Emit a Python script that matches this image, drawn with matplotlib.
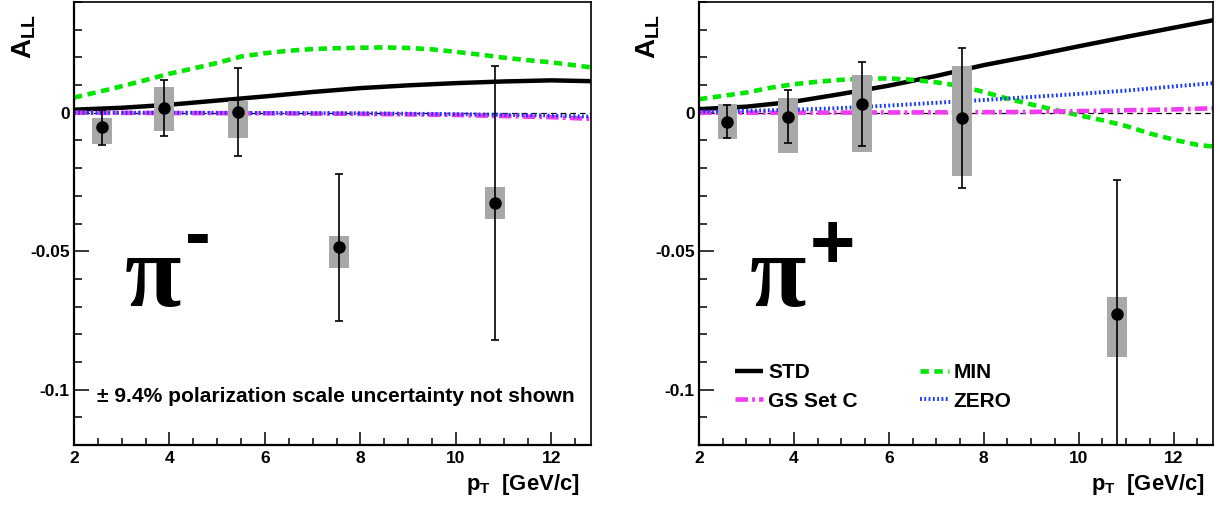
import matplotlib
matplotlib.use("Agg")
import matplotlib.pyplot as plt

# ---------------- data ----------------
pt_pim = [2.59, 3.88, 5.44, 7.56, 10.81]
all_pim = [-0.0053, 0.0017, 0.0001, -0.0486, -0.0327]
stat_pim = [0.0062, 0.0100, 0.0159, 0.0266, 0.0495]
sys_lo_pim = [0.0060, 0.0084, 0.0094, 0.0075, 0.0056]
sys_hi_pim = [0.0034, 0.0076, 0.0042, 0.0042, 0.0060]

pt_pip = [2.60, 3.87, 5.44, 7.55, 10.81]
all_pip = [-0.0032, -0.0014, 0.0032, -0.0018, -0.0728]
stat_pip = [0.0061, 0.0097, 0.0152, 0.0252, 0.0486]
sys_lo_pip = [0.0064, 0.0133, 0.0175, 0.0212, 0.0155]
sys_hi_pip = [0.0063, 0.0067, 0.0104, 0.0188, 0.0063]

# theory curves, pi-
std_x_L = [2, 3, 4, 5, 6, 7, 8, 9, 10, 11, 12, 12.83]
std_L = [0.0011, 0.0018, 0.0029, 0.0044, 0.0059, 0.0075, 0.0089, 0.0099, 0.0107, 0.0113, 0.0117, 0.0114]
min_x_L = [2, 2.8, 3.5, 4, 4.5, 5, 5.5, 6, 6.5, 7, 7.5, 8, 8.5, 9, 9.5, 10, 10.5, 11, 11.5, 12, 12.5, 12.83]
min_L = [0.0055, 0.0087, 0.0118, 0.0141, 0.0160, 0.0180, 0.0203, 0.0215, 0.0224, 0.0230, 0.0233, 0.0235,
         0.0236, 0.0234, 0.0229, 0.0220, 0.0210, 0.0199, 0.0190, 0.0182, 0.0171, 0.0164]
gs_x_L = [2, 4, 6, 8, 10, 12, 12.83]
gs_L = [0.0, -0.0001, -0.0002, -0.0004, -0.0008, -0.0016, -0.0022]
zero_x_L = [2, 4, 6, 8, 10, 12, 12.83]
zero_L = [0.0, 0.0, -0.0001, -0.0002, -0.0005, -0.0010, -0.0014]

# theory curves, pi+
std_x_R = [2, 3, 4, 5, 6, 7, 8, 9, 10, 11, 12, 12.83]
std_R = [0.0013, 0.0022, 0.0040, 0.0068, 0.0098, 0.0133, 0.0172, 0.0205, 0.0240, 0.0274, 0.0307, 0.0334]
min_x_R = [2, 2.5, 3, 3.5, 4, 4.5, 5, 5.5, 6, 6.5, 7, 7.5, 8, 8.5, 9, 9.5, 10, 10.5, 11, 11.5, 12, 12.5, 12.83]
min_R = [0.0049, 0.0061, 0.0073, 0.0090, 0.0103, 0.0112, 0.0119, 0.0123, 0.0124, 0.0119, 0.0110, 0.0097,
         0.0075, 0.0051, 0.0030, 0.0010, -0.0009, -0.0027, -0.0048, -0.0075, -0.0097, -0.0116, -0.0122]
gs_x_R = [2, 4, 6, 8, 9, 10, 11, 12, 12.83]
gs_R = [0.0, 0.0, 0.0001, 0.0002, 0.0003, 0.0006, 0.0009, 0.0012, 0.0016]
zero_x_R = [2, 3, 4, 5, 6, 7, 8, 9, 10, 11, 12, 12.83]
zero_R = [0.0004, 0.0007, 0.0011, 0.0017, 0.0026, 0.0036, 0.0046, 0.0057, 0.0068, 0.0080, 0.0095, 0.0107]

xticks = [2, 4, 6, 8, 10, 12]
yticks = [0, -0.05, -0.1]
ytick_labels = ["0", "-0.05", "-0.1"]
legend_labels = ["STD", "GS Set C", "MIN", "ZERO"]

# ---------------- style ----------------
plt.rcParams["font.family"] = ["Liberation Sans", "DejaVu Sans"]
plt.rcParams["font.weight"] = "bold"
plt.rcParams["mathtext.fontset"] = "custom"
plt.rcParams["mathtext.rm"] = "Liberation Sans:bold"
plt.rcParams["mathtext.it"] = "Liberation Sans:bold"
plt.rcParams["mathtext.bf"] = "Liberation Sans:bold"
plt.rcParams["lines.scale_dashes"] = False

W, H = 1220, 508
fig = plt.figure(figsize=(W / 100, H / 100), dpi=100)


def fx(x):
    return x / W


def fy(y):
    return 1 - y / H


ax1 = fig.add_axes([fx(74), fy(445), (591 - 74) / W, (445 - 2) / H])
ax2 = fig.add_axes([fx(699), fy(445), (1213 - 699) / W, (445 - 2) / H])

GREEN = "#00e600"
MAGENTA = "#f03cf0"
BLUE = "#1438ff"
GRAY = "#a8a8a8"


def style_axes(ax):
    ax.set_xlim(2, 12.83)
    ax.set_ylim(-0.12, 0.04)
    ax.set_xticks(xticks)
    ax.set_xticklabels([str(t) for t in xticks])
    ax.set_xticks([2.5 + 0.5 * i for i in range(22) if (2.5 + 0.5 * i) % 2 != 0 and 2.5 + 0.5 * i < 12.83], minor=True)
    ax.set_yticks(yticks)
    ax.set_yticklabels(ytick_labels)
    ax.set_yticks([0.04 - 0.01 * i for i in range(17)], minor=True)
    for s in ax.spines.values():
        s.set_linewidth(1.6)
    ax.spines["top"].set_linewidth(1.2)
    ax.spines["right"].set_linewidth(1.2)
    ax.tick_params(axis="both", which="both", direction="in", top=False, right=False,
                   labelsize=12.5, width=1.1)
    ax.tick_params(axis="x", which="major", length=9.5, pad=4)
    ax.tick_params(axis="x", which="minor", length=5)
    ax.tick_params(axis="y", which="major", length=11, pad=3)
    ax.tick_params(axis="y", which="minor", length=6)
    for lab in ax.get_xticklabels() + ax.get_yticklabels():
        lab.set_fontweight("bold")


def draw_panel(ax, curves, pt, val, stat, slo, shi):
    ax.axhline(0, color="black", lw=0.9, dashes=(4, 3), zorder=1)
    handles = {}
    (sx, sy), (mx, my), (gx, gy), (zx, zy) = curves
    handles["STD"], = ax.plot(sx, sy, color="black", lw=3.2, solid_capstyle="butt", zorder=2)
    handles["MIN"], = ax.plot(mx, my, color=GREEN, lw=3.3, dashes=(6, 4), zorder=2)
    handles["GS Set C"], = ax.plot(gx, gy, color=MAGENTA, lw=3.3, dashes=(9, 3, 2, 3), zorder=2)
    handles["ZERO"], = ax.plot(zx, zy, color=BLUE, lw=2.8, dashes=(1.3, 1.8), zorder=2)
    heights = [lo + hi for lo, hi in zip(slo, shi)]
    bottoms = [v - lo for v, lo in zip(val, slo)]
    ax.bar(pt, heights, bottom=bottoms, width=0.42, color=GRAY, linewidth=0, zorder=3)
    ax.errorbar(pt, val, yerr=stat, fmt="o", color="black", ms=8, elinewidth=1.2,
                capsize=3.2, capthick=1.2, zorder=4)
    return handles


draw_panel(ax1, [(std_x_L, std_L), (min_x_L, min_L), (gs_x_L, gs_L), (zero_x_L, zero_L)],
           pt_pim, all_pim, stat_pim, sys_lo_pim, sys_hi_pim)
hR = draw_panel(ax2, [(std_x_R, std_R), (min_x_R, min_R), (gs_x_R, gs_R), (zero_x_R, zero_R)],
                pt_pip, all_pip, stat_pip, sys_lo_pip, sys_hi_pip)
style_axes(ax1)
style_axes(ax2)

# axis titles
for xr in (579, 1204):
    fig.text(fx(xr), fy(490), r"$p_T$  [GeV/c]", ha="right", va="baseline",
             fontsize=15.8, fontweight="bold")
for xc in (24, 648):
    fig.text(fx(xc), fy(14), r"$A_{LL}$", ha="center", va="top", rotation=90,
             fontsize=20, fontweight="bold")

# pi labels
PI_FONT = ["Liberation Serif", "DejaVu Serif"]
fig.text(fx(153), fy(306), "\u03c0", fontsize=74, family=PI_FONT, fontweight="bold",
         ha="center", va="baseline")
fig.text(fx(198), fy(259), "-", fontsize=56, fontweight="bold", ha="center", va="baseline")
fig.text(fx(778), fy(306), "\u03c0", fontsize=74, family=PI_FONT, fontweight="bold",
         ha="center", va="baseline")
fig.text(fx(832), fy(268), "+", fontsize=56, fontweight="bold", ha="center", va="baseline")

# scale uncertainty note
fig.text(fx(97), fy(396), "\u00b1 9.4% polarization scale uncertainty not shown",
         fontsize=15.1, fontweight="bold", ha="left", va="center")

# legend (right panel)
leg = fig.legend([hR[k] for k in legend_labels], legend_labels, ncol=2,
                 loc="center left", bbox_to_anchor=(fx(735), fy(387)),
                 bbox_transform=fig.transFigure, frameon=False, borderpad=0,
                 borderaxespad=0, handlelength=1.35, handletextpad=0.25,
                 columnspacing=3.0, labelspacing=0.45,
                 prop={"size": 15, "weight": "bold"})

fig.savefig("out.png", dpi=100)
